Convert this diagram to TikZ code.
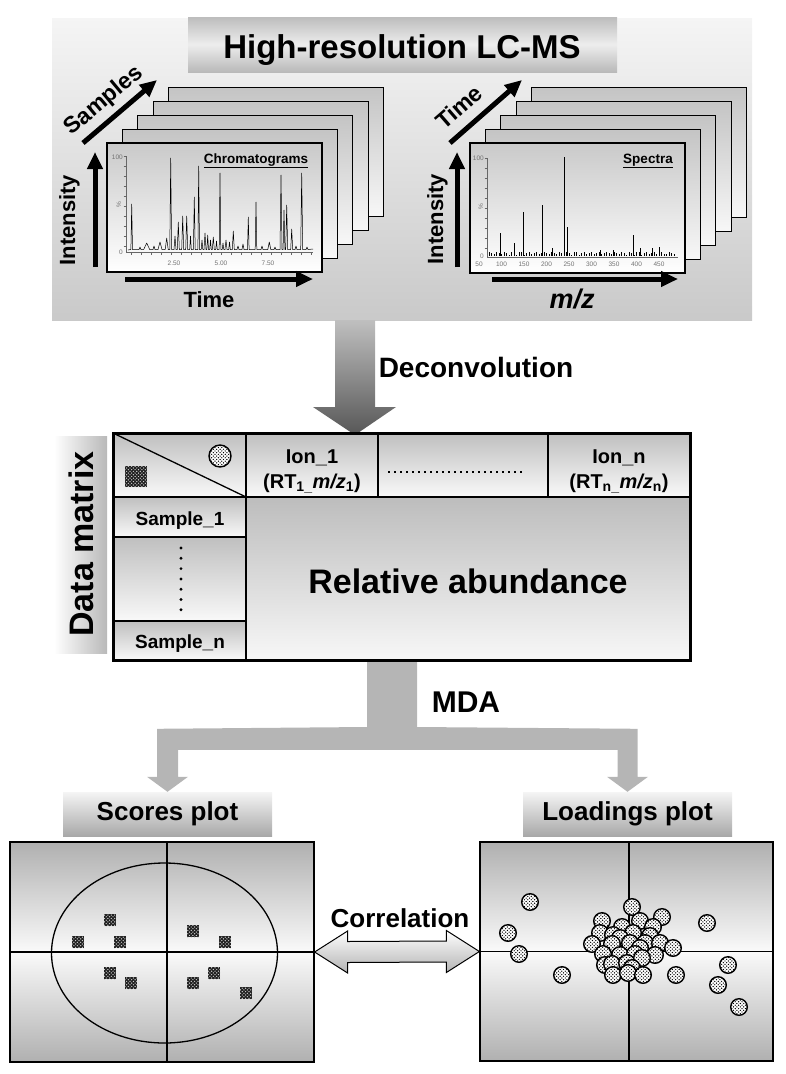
\documentclass[tikz,border=0pt]{standalone}
\usepackage{fontspec}
\setmainfont{Liberation Sans}
\usetikzlibrary{arrows.meta,patterns,calc}

\newcommand\fsz[1]{\fontsize{#1}{#1}\selectfont}

\pgfdeclarepatternformonly{bigdots}{\pgfqpoint{-1pt}{-1pt}}{\pgfqpoint{4pt}{4pt}}{\pgfqpoint{3.4pt}{3.4pt}}{%
  \pgfpathcircle{\pgfqpoint{0.8pt}{0.8pt}}{0.7pt}
  \pgfpathcircle{\pgfqpoint{2.5pt}{2.5pt}}{0.7pt}
  \pgfusepath{fill}}

\tikzset{
  stackframe/.style={draw, line width=1.3pt, top color=gray!46, bottom color=gray!6},
  frontframe/.style={draw, line width=1.3pt, top color=gray!42, bottom color=white},
  axisarrow/.style={line width=5pt, -{Triangle[length=17pt,width=15pt]}},
  ticklbl/.style={font=\fsz{6.5}, text=black!55, inner sep=0pt},
  cellshade/.style={top color=gray!50, bottom color=gray!5},
  mdaarrow/.style={fill=black!29},
  titlebox/.style={top color=gray!8, bottom color=gray!68, minimum width=209pt, minimum height=44pt},
  plotframe/.style={draw, line width=1.2pt, top color=gray!62, bottom color=gray!62, middle color=gray!4},
  scoresq/.style={fill=black!88, postaction={pattern=bigdots, pattern color=white!80!black}},
  loaddot/.style={draw, line width=1.4pt, fill=white, postaction={pattern=bigdots}}
}

\begin{document}
\begin{tikzpicture}[x=1pt,y=-1pt]
    \useasboundingbox (0,0) rectangle (786,1074);

    \coordinate (SA) at (83,143);   \coordinate (SB) at (157,80);
    \coordinate (IA) at (95,267);   \coordinate (IB) at (95,152);
    \coordinate (TA) at (125,279);  \coordinate (TB) at (313,279);
    \coordinate (RA) at (450,143);  \coordinate (RB) at (522,80);
    \coordinate (JA) at (457,267);  \coordinate (JB) at (457,152);
    \coordinate (ZA) at (492,279);  \coordinate (ZB) at (678,279);

    % LC-MS panel
    \fill[top color=gray!8, bottom color=gray!42] (52,18) rectangle (752,320);
    \shade[top color=gray!52, bottom color=gray!55, middle color=gray!14] (188,17) rectangle (617,72);
    \node[anchor=base, font=\fsz{33}\bfseries] (title) at (402,58) {High-resolution LC-MS};

    \foreach \i in {4,...,1}{
        \draw[stackframe] (107+\i*15.4,143-\i*13.8) rectangle ++(215,129);
        \draw[stackframe] (470+\i*15.4,143-\i*13.8) rectangle ++(215,130);
    }
    \draw[frontframe] (107,143) rectangle (322,272);
    \draw[frontframe] (470,143) rectangle (685,273);

    % chromatogram
    \draw[line width=0.5pt, black!60] (126,156) -- (126,252) -- (313,252);
    \foreach \y in {156,166,...,252} \draw[line width=0.4pt, black!60] (123.5,\y) -- (126,\y);
    \foreach \x in {131,141,...,311} \draw[line width=0.4pt, black!60] (\x,252) -- (\x,254.5);
    \node[ticklbl, anchor=east] (c100) at (123,157) {100};
    \node[ticklbl, rotate=90] (cpct) at (119,205) {\%};
    \node[ticklbl, anchor=east] (c0) at (123,252) {0};
    \node[ticklbl] (c1) at (174,263) {2.50};
    \node[ticklbl] (c2) at (221,263) {5.00};
    \node[ticklbl] (c3) at (268,263) {7.50};
    \draw[line width=0.5pt, line join=round] (128,250)
        \foreach \x/\h/\w in {131.7/204/0.8, 140/247/1, 146.7/243/3, 154/246/1, 160/242/2,
            166.7/238/1.5, 170.7/158/0.9, 175/236/1, 178.3/222/1, 182.7/216/1,
            186.7/216/1, 190.5/236/0.8, 194.3/197/0.9, 198.7/166/0.8, 202/240/0.8,
            205/233/1, 207.7/235/0.8, 210.5/240/0.8, 213.3/237/1, 216.5/241/0.8,
            220/173/0.8, 223/243/0.8, 226/240/1, 229.5/242/0.8, 233.3/231/1,
            238/246/1, 243/244/1, 248.3/217/0.8, 256/202/0.8, 262/246/1, 269.3/242/1.5,
            275/247/1, 281/175/1, 284/210/0.9, 286.7/205/1, 291.7/229/1,
            296/246/1, 301.7/173/1, 307/247/1}
        { -- (\x-\w,249.5) -- (\x,\h) -- (\x+\w,249.5) } -- (313,249);
    \node[anchor=base, font=\fsz{13.5}\bfseries] (chromlbl) at (256,163) {\underline{Chromatograms}};

    % spectrum
    \draw[line width=0.5pt, black!60] (487,158) -- (487,257) -- (678,257);
    \foreach \y in {158,168,...,257} \draw[line width=0.4pt, black!60] (484.5,\y) -- (487,\y);
    \node[ticklbl, anchor=east] (s100) at (484,158) {100};
    \node[ticklbl, rotate=90] (spct) at (481,207) {\%};
    \node[ticklbl, anchor=east] (s0) at (484,256) {0};
    \foreach \v [count=\k from 0] in {50,100,...,450}
        \node[ticklbl] (m\k) at (479+22.5*\k,264) {\v};
    \foreach \x in {489,491.5,...,676}
        \draw[line width=0.4pt] (\x,256) -- (\x,{255-3*abs(sin(\x*23))});
    \draw[line width=0.7pt] \foreach \x/\h in {500/233, 514/243, 523/212, 542/205, 552/248,
        564/157, 567/227, 600/250, 613/250, 633/235, 640/248, 652/248, 659/247}
        { (\x,256) -- (\x,\h) };
    \node[anchor=base, font=\fsz{13.5}\bfseries] (speclbl) at (648,163) {\underline{Spectra}};

    % axes arrows
    \draw[axisarrow] (SA) -- (SB);
    \draw[axisarrow] (IA) -- (IB);
    \draw[axisarrow] (TA) -- (TB);
    \draw[axisarrow] (RA) -- (RB);
    \draw[axisarrow] (JA) -- (JB);
    \draw[axisarrow] (ZA) -- (ZB);
    \node[rotate=40, inner sep=0pt, font=\fsz{23}\bfseries] (samplesL) at (104,101) {Samples};
    \node[rotate=90, inner sep=0pt, anchor=base, font=\fsz{22}\bfseries] (intL) at (75,220) {Intensity};
    \node[anchor=base, font=\fsz{22}\bfseries] (timeL) at (209,307) {Time};
    \node[rotate=41, inner sep=0pt, font=\fsz{23}\bfseries] (timeR) at (459,107) {Time};
    \node[rotate=90, inner sep=0pt, anchor=base, font=\fsz{22}\bfseries] (intR) at (443,219) {Intensity};
    \node[anchor=base, font=\fsz{27}\bfseries\itshape] (mzL) at (572,308) {m/z};

    % deconvolution
    \coordinate (DT) at (355,320);
    \coordinate (DB) at (355,435);
    \shade[top color=black!25, bottom color=black!66]
        ($(DT)+(-20,0)$) -- ($(DT)+(20,0)$) -- ($(DB)+(20,-28)$) -- ($(DB)+(41,-28)$) -- (DB)
        -- ($(DB)+(-42,-28)$) -- ($(DB)+(-20,-28)$) -- cycle;
    \node[anchor=base, font=\fsz{28}\bfseries] (deconv) at (476,377) {Deconvolution};

    % data matrix
    \shade[left color=white, right color=gray!55] (54,436) rectangle (107,653);
    \node[rotate=90, anchor=base, font=\fsz{34}\bfseries] (dmL) at (93,544) {Data matrix};

    \fill[cellshade] (113,433) rectangle (246,497);
    \fill[cellshade] (246,433) rectangle (378,497);
    \fill[cellshade] (378,433) rectangle (548,497);
    \fill[cellshade] (548,433) rectangle (690,497);
    \fill[cellshade] (113,497) rectangle (246,537);
    \fill[cellshade] (113,537) rectangle (246,621);
    \fill[cellshade] (113,621) rectangle (246,660);
    \fill[top color=gray!52, bottom color=gray!6] (246,497) rectangle (690,660);

    \draw[line width=1.5pt] (113,497) -- (690,497);
    \draw[line width=1.5pt] (246,433) -- (246,660);
    \draw[line width=1.5pt] (378,433) -- (378,497);
    \draw[line width=1.5pt] (548,433) -- (548,497);
    \draw[line width=1.5pt] (113,537) -- (246,537);
    \draw[line width=1.5pt] (113,621) -- (246,621);
    \draw[line width=1.3pt] (113,433) -- (246,497);
    \draw[line width=3pt] (113,433) rectangle (690,660);

    \draw[loaddot] (220,456) circle (11);
    \fill[scoresq] (125,466) rectangle (147,487);

    \node[anchor=base, font=\fsz{20}\bfseries] (ion1a) at (312,463) {Ion\_1};
    \node[anchor=base, font=\fsz{20}\bfseries] (ion1b) at (312,488) {(RT\textsubscript{1\_}\textit{m/z}\textsubscript{1})};
    \node[anchor=base, font=\fsz{20}\bfseries] (ionna) at (619,463) {Ion\_n};
    \node[anchor=base, font=\fsz{20}\bfseries] (ionnb) at (619,488) {(RT\textsubscript{n\_}\textit{m/z}\textsubscript{n})};
    \draw[line width=1.6pt, dash pattern=on 1.6pt off 4.4pt] (388,472) -- (524,472);
    \foreach \y in {548,558.3,...,611} \fill (181,\y) circle (1.6);
    \node[anchor=base, font=\fsz{19}\bfseries] (s1) at (180,525) {Sample\_1};
    \node[anchor=base, font=\fsz{19}\bfseries] (sn) at (180,648) {Sample\_n};
    \node[anchor=base, font=\fsz{34}\bfseries] (relab) at (468,593) {Relative abundance};

    % MDA
    \node[titlebox, font=\fsz{26}\bfseries] (scoresT) at (167.5,814) {Scores plot};
    \node[titlebox, font=\fsz{26}\bfseries] (loadT) at (627.5,814) {Loadings plot};
    \coordinate (MT) at (392,662);
    \coordinate (ML) at (scoresT.north);
    \coordinate (MR) at (loadT.north);
    \fill[mdaarrow] ($(MT)+(-25,0)$) -- ($(MT)+(25,0)$) -- ($(MT)+(25,65)$) -- ($(MR)+(10,-63)$)
        -- ($(MR)+(10,-15)$) -- ($(MR)+(20.5,-15)$) -- (MR) -- ($(MR)+(-20.5,-15)$)
        -- ($(MR)+(-10,-15)$) -- ($(MR)+(-10,-42)$) -- ($(ML)+(10.5,-42)$) -- ($(ML)+(10.5,-15)$)
        -- ($(ML)+(20.5,-15)$) -- (ML) -- ($(ML)+(-20.5,-15)$) -- ($(ML)+(-10.5,-15)$)
        -- ($(ML)+(-10.5,-63)$) -- ($(MT)+(-25,65)$) -- cycle;
    \node[anchor=base, font=\fsz{30}\bfseries] (mda) at (466,712) {MDA};

    % scores plot
    \node[plotframe, minimum width=304pt, minimum height=220pt] (scores) at (162,952) {};
    \draw[line width=1.1pt] ($(scores.north)+(5,0)$) -- ($(scores.south)+(5,0)$);
    \draw[line width=1.1pt] (scores.west) -- (scores.east);
    \draw[line width=1.3pt] (164.5,953) ellipse [x radius=113, y radius=90];
    \foreach \x/\y in {110/920, 78/942, 120/942, 193/931, 225/942, 110/973, 131/983,
        193/983, 214/973, 246/993}
        \fill[scoresq] (\x-6,\y-6) rectangle (\x+6,\y+6);

    % loadings plot
    \node[plotframe, minimum width=293pt, minimum height=219pt] (loadings) at (626.5,951.5) {};
    \draw[line width=1.1pt] ($(loadings.north)+(2.5,0)$) -- ($(loadings.south)+(2.5,0)$);
    \draw[line width=1.1pt] (loadings.west) -- (loadings.east);
    \foreach \x/\y in {632/907, 662/917, 602/921, 622/927, 640/921, 653/927, 600/933,
        613/935, 633/933, 620/938, 650/936, 592/944, 612/944, 630/943, 645/943, 660/943,
        640/948, 673/948, 603/954, 620/955, 635/954, 655/955, 605/965, 612/964, 627/963,
        642/958, 632/968, 613/975, 628/973, 643/975,
        530/902, 508/933, 519/954, 562/975, 707/923, 728/965, 718/985, 739/1007, 676/975}
        \draw[loaddot] (\x,\y) circle (8.3);

    % correlation
    \coordinate (CL) at (scores.east);
    \coordinate (CR) at (loadings.west);
    \shade[draw, line width=1pt, top color=white, bottom color=gray!60]
        (CL) -- ++(33,-21) -- ++(0,10.5) -- ($(CR)+(-33,-10.5)$) -- ++(0,-10.5) -- (CR)
        -- ++(-33,21) -- ++(0,-10.5) -- ($(CL)+(33,10.5)$) -- ++(0,10.5) -- cycle;
    \node[anchor=base, font=\fsz{26}\bfseries] (corr) at (400,927) {Correlation};
\end{tikzpicture}
\end{document}
